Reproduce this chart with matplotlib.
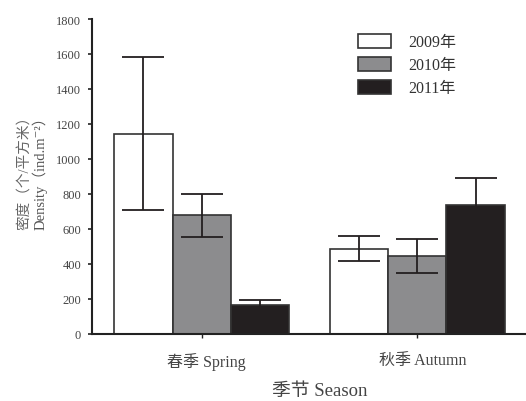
import matplotlib
matplotlib.use("Agg")
import matplotlib.pyplot as plt
import matplotlib.transforms as mtransforms
import numpy as np

# ── Data ─────────────────────────────────────────────────────────────────────
seasons = ["春季 Spring", "秋季 Autumn"]
years = ["2009年", "2010年", "2011年"]
density = {
    "2009年": [1143, 486],
    "2010年": [676, 442],
    "2011年": [162, 733],
}
density_err = {
    "2009年": [437, 70],
    "2010年": [122, 97],
    "2011年": [28, 157],
}
yticks = list(range(0, 1801, 200))

bar_colors = ["#ffffff", "#8c8c8e", "#231f20"]
edge = "#333333"

plt.rcParams["font.family"] = ["Liberation Serif", "Noto Sans CJK SC", "DejaVu Serif"]

fig = plt.figure(figsize=(5.26, 4.02), dpi=100)
ax = fig.add_axes([0.1755, 0.1679, 0.8245, 0.7823])

x = np.arange(len(seasons))
width = 0.27
for i, yr in enumerate(years):
    pos = x + (i - 1) * width
    ax.bar(pos, density[yr], width=width, color=bar_colors[i],
           edgecolor=edge, linewidth=1.2, label=yr, zorder=2)
    ax.errorbar(pos, density[yr], yerr=density_err[yr], fmt="none",
                ecolor="#231f20", elinewidth=1.3, capsize=14.9, capthick=1.3,
                zorder=3)

ax.set_xlim(-0.507, 1.504)
ax.set_ylim(0, 1800)
ax.set_yticks(yticks)
ax.set_xticks(x)
ax.set_xticklabels(seasons)

for side in ("top", "right"):
    ax.spines[side].set_visible(False)
for side in ("left", "bottom"):
    ax.spines[side].set_color("#222222")
    ax.spines[side].set_linewidth(1.5)

ax.tick_params(axis="y", direction="out", length=3, width=1.2,
               color="#222222", labelsize=9, labelcolor="#444444", pad=5)
ax.tick_params(axis="x", direction="out", length=3, width=1.0,
               color="#222222", labelsize=11.5, labelcolor="#444444", pad=10)

# the season labels sit a little right of their ticks in the original
shift = mtransforms.ScaledTranslation(5 / 100, 0, fig.dpi_scale_trans)
for lab in ax.get_xticklabels():
    lab.set_transform(lab.get_transform() + shift)

# y label: two rotated lines, bottom aligned
fig.text(25 / 526, 1 - 230 / 402, "密度（个/平方米）", rotation=90,
         ha="center", va="bottom", fontsize=10.5, color="#666666")
fig.text(40 / 526, 1 - 230 / 402, "Density（ind.m⁻²）", rotation=90,
         ha="center", va="bottom", fontsize=10.5, color="#555555")

# x label
fig.text(320 / 526, 1 - 392 / 402, "季节 Season", ha="center", va="center",
         fontsize=13.5, color="#444444")

leg = ax.legend(loc="upper left", bbox_to_anchor=(358 / 526, 1 - 35 / 402),
                bbox_transform=fig.transFigure, frameon=False, fontsize=11.5,
                handlelength=2.06, handleheight=0.94, handletextpad=1.06,
                labelspacing=0.42, borderpad=0, borderaxespad=0)
for t in leg.get_texts():
    t.set_color("#333333")

fig.savefig("out.png", dpi=100)
